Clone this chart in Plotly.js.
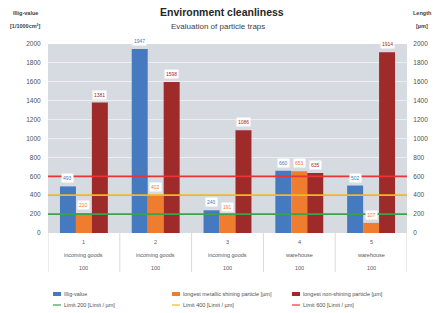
<!DOCTYPE html>
<html><head><meta charset="utf-8">
<script src="https://cdn.plot.ly/plotly-3.0.1.min.js"></script>
<style>html,body{margin:0;padding:0;background:#fff}#c{width:436px;height:313px}</style>
</head><body><div id="c"></div>
<script>
const catNum = ["1","2","3","4","5"];
const catLoc = ["incoming goods","incoming goods","incoming goods","warehouse","warehouse"];
const catQty = ["100","100","100","100","100"];
const illig = [493, 1947, 240, 660, 502];
const metallic = [210, 402, 191, 653, 107];
const nonShining = [1381, 1598, 1086, 635, 1914];
const limits = [200, 400, 600];
const limitNames = ["Limit 200 [Limit / µm]","Limit 400 [Limit / µm]","Limit 600 [Limit / µm]"];
const seriesNames = ["Illig-value","longest metallic shining particle [µm]","longest non-shining particle [µm]"];
const barColors = ["#4579c0","#ee7d2f","#9e2a29"];
const limitColors = ["#3da24a","#f0b824","#e83535"];

const W = 436, H = 313, L = 48, R = 29, T = 44, B = 80;
const pw = W - L - R, ph = H - T - B;
const px = x => (x - L) / pw;          // pixel -> paper x
const py = y => (H - B - y) / ph;      // pixel -> paper y

const xIdx = catNum.map((_, i) => i);
const series = [illig, metallic, nonShining];
const font = "Liberation Sans, Arial, sans-serif";

const traces = series.map((vals, k) => ({
  type: "bar", x: xIdx, y: vals, name: seriesNames[k],
  marker: {color: barColors[k]}, hoverinfo: "skip", showlegend: false
}));
limits.forEach((v, k) => {
  traces.push({type: "scatter", mode: "lines", x: [-0.5, 4.5], y: [v, v], yaxis: "y2",
    name: limitNames[k], line: {color: limitColors[k], width: 1.8}, hoverinfo: "skip", showlegend: false});
});

const bw = 2/3/3;
const ann = [];
series.forEach((vals, k) => {
  vals.forEach((v, i) => {
    ann.push({x: i + (k - 1) * bw, y: v, xref: "x", yref: "y", text: String(v),
      showarrow: false, yanchor: "bottom", yshift: 3, bgcolor: "#ffffff",
      font: {family: font, size: 5, color: barColors[k]}, borderpad: 1});
  });
});
const rows = [catNum, catLoc, catQty];
rows.forEach((row, r) => {
  row.forEach((t, i) => {
    ann.push({x: i, y: py(242 + 13 * r), xref: "x", yref: "paper", text: t, showarrow: false,
      yanchor: "middle", font: {family: font, size: 5.5, color: "#595959"}});
  });
});
const txt = (x, y, t, size, color, anchor) => ann.push({xref: "paper", yref: "paper", x: px(x), y: py(y), text: t,
  showarrow: false, yanchor: "middle", xanchor: anchor || "center", font: {family: font, size: size, color: color}});
txt(222, 12, "<b>Environment cleanliness</b>", 10.5, "#262626");
txt(218, 27, "Evaluation of particle traps", 8, "#404040");
txt(25, 13, "<b>Illig-value</b>", 5.5, "#404040");
txt(25, 26, "<b>[1/1000cm²]</b>", 5.5, "#404040");
txt(422, 13, "<b>Length</b>", 5.5, "#404040");
txt(422, 26, "<b>[µm]</b>", 5.5, "#404040");

const shapes = [];
for (let i = 0; i <= catNum.length; i++) {
  shapes.push({type: "line", xref: "x", yref: "paper", x0: i - 0.5, x1: i - 0.5, y0: 0, y1: py(272),
    line: {color: "#d9d9d9", width: 1}});
}

// custom legend (2 rows x 3 columns)
const legCols = [53, 172, 292];
const legRows = [294, 305];
seriesNames.forEach((n, k) => {
  const x0 = legCols[k], y0 = legRows[0];
  shapes.push({type: "rect", xref: "paper", yref: "paper", x0: px(x0), x1: px(x0 + 8), y0: py(y0 - 2), y1: py(y0 + 2),
    fillcolor: barColors[k], line: {width: 0}});
  txt(x0 + 9, y0, n, 5.5, "#505050", "left");
});
limitNames.forEach((n, k) => {
  const x0 = legCols[k], y0 = legRows[1];
  shapes.push({type: "line", xref: "paper", yref: "paper", x0: px(x0), x1: px(x0 + 8), y0: py(y0), y1: py(y0),
    line: {color: limitColors[k], width: 1.2}});
  txt(x0 + 9, y0, n, 5.5, "#505050", "left");
});

const layout = {
  width: W, height: H, margin: {l: L, r: R, t: T, b: B, autoexpand: false},
  paper_bgcolor: "#ffffff", plot_bgcolor: "#d6dbe1",
  barmode: "group", bargap: 0.333, bargroupgap: 0,
  showlegend: false,
  xaxis: {range: [-0.5, 4.5], showticklabels: false, ticks: "", showgrid: false, zeroline: false, fixedrange: true},
  yaxis: {range: [0, 2000], dtick: 200, gridcolor: "#eceef1", gridwidth: 1, zeroline: false,
    tickfont: {family: font, size: 6.5, color: "#505050"}, ticks: "outside", ticklen: 5, tickcolor: "rgba(0,0,0,0)"},
  yaxis2: {range: [0, 2000], dtick: 200, overlaying: "y", side: "right", showgrid: false, zeroline: false,
    tickfont: {family: font, size: 6.5, color: "#505050"}, ticks: "outside", ticklen: 4, tickcolor: "rgba(0,0,0,0)"},
  annotations: ann, shapes: shapes
};
Plotly.newPlot("c", traces, layout, {staticPlot: true, displayModeBar: false});
</script></body></html>
